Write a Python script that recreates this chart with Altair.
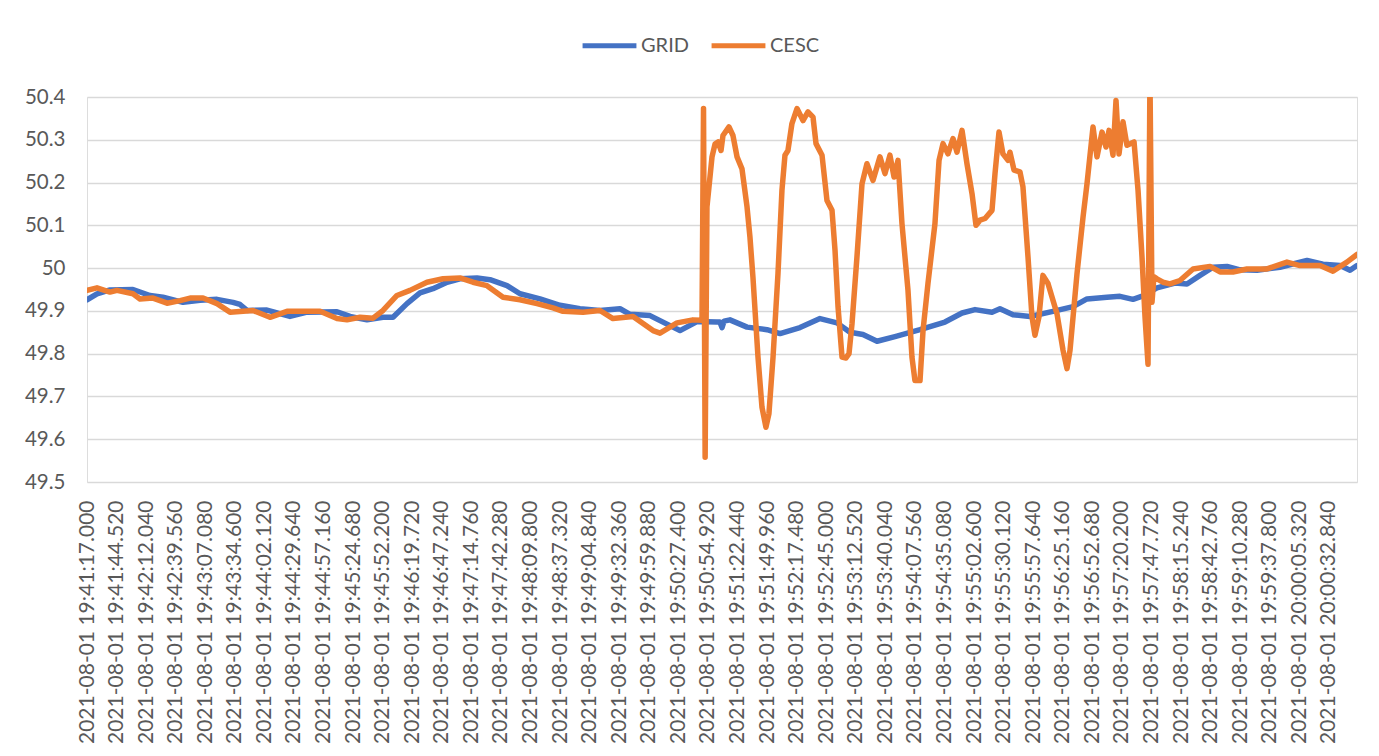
import json
import altair as alt
import pandas as pd

# ---- data ----
x_labels = [
    "2021-08-01 19:41:17.000", "2021-08-01 19:41:44.520", "2021-08-01 19:42:12.040",
    "2021-08-01 19:42:39.560", "2021-08-01 19:43:07.080", "2021-08-01 19:43:34.600",
    "2021-08-01 19:44:02.120", "2021-08-01 19:44:29.640", "2021-08-01 19:44:57.160",
    "2021-08-01 19:45:24.680", "2021-08-01 19:45:52.200", "2021-08-01 19:46:19.720",
    "2021-08-01 19:46:47.240", "2021-08-01 19:47:14.760", "2021-08-01 19:47:42.280",
    "2021-08-01 19:48:09.800", "2021-08-01 19:48:37.320", "2021-08-01 19:49:04.840",
    "2021-08-01 19:49:32.360", "2021-08-01 19:49:59.880", "2021-08-01 19:50:27.400",
    "2021-08-01 19:50:54.920", "2021-08-01 19:51:22.440", "2021-08-01 19:51:49.960",
    "2021-08-01 19:52:17.480", "2021-08-01 19:52:45.000", "2021-08-01 19:53:12.520",
    "2021-08-01 19:53:40.040", "2021-08-01 19:54:07.560", "2021-08-01 19:54:35.080",
    "2021-08-01 19:55:02.600", "2021-08-01 19:55:30.120", "2021-08-01 19:55:57.640",
    "2021-08-01 19:56:25.160", "2021-08-01 19:56:52.680", "2021-08-01 19:57:20.200",
    "2021-08-01 19:57:47.720", "2021-08-01 19:58:15.240", "2021-08-01 19:58:42.760",
    "2021-08-01 19:59:10.280", "2021-08-01 19:59:37.800", "2021-08-01 20:00:05.320",
    "2021-08-01 20:00:32.840",
]

# seconds after 19:41:17.000
grid_t = [0, 9.3, 21.4, 42.8, 58.6, 70.7, 89.3, 105.2, 121.0, 135.9, 142.4, 148.9,
          167.5, 188.9, 204.8, 232.7, 244.8, 260.6, 275.5, 284.8, 297.8, 309.9, 322.0,
          335.1, 347.1, 363.0, 375.1, 390.9, 403.0, 421.6, 440.2, 458.8, 477.4, 496.1,
          505.4, 524.0, 545.4, 551.9, 567.7, 586.3, 589.1, 591.0, 592.9, 598.4, 614.3,
          632.9, 645.0, 663.6, 682.2, 698.0, 710.1, 722.2, 735.3, 752.0, 775.3, 798.5,
          814.4, 826.5, 842.3, 849.7, 861.8, 877.6, 899.0, 917.7, 930.7, 949.3, 961.4,
          973.5, 982.8, 995.8, 1012.6, 1023.8, 1035.9, 1048.0, 1061.0, 1073.1, 1088.9,
          1110.3, 1135.5, 1150.3, 1166.2, 1175.5, 1182.0]
grid_v = [49.926, 49.940, 49.949, 49.950, 49.936, 49.932, 49.920, 49.925, 49.927, 49.920,
          49.915, 49.901, 49.902, 49.887, 49.897, 49.898, 49.887, 49.879, 49.885, 49.885,
          49.917, 49.942, 49.952, 49.967, 49.975, 49.977, 49.973, 49.959, 49.940, 49.928,
          49.913, 49.905, 49.901, 49.905, 49.892, 49.889, 49.862, 49.854, 49.875, 49.874,
          49.874, 49.861, 49.876, 49.879, 49.862, 49.856, 49.847, 49.861, 49.882, 49.872,
          49.850, 49.845, 49.829, 49.840, 49.856, 49.874, 49.895, 49.903, 49.897, 49.905,
          49.891, 49.887, 49.899, 49.910, 49.928, 49.932, 49.934, 49.927, 49.935, 49.954,
          49.965, 49.963, 49.983, 50.002, 50.004, 49.996, 49.995, 50.002, 50.018, 50.009,
          50.006, 49.995, 50.006]

cesc_t = [0, 9.3, 21.4, 27.9, 42.8, 49.3, 61.4, 74.5, 86.6, 95.9, 108.0, 121.0, 133.1,
          154.5, 170.3, 186.1, 216.9, 232.7, 242.0, 254.1, 266.2, 275.5, 288.5, 300.6,
          316.4, 331.3, 347.1, 359.2, 372.3, 387.2, 403.0, 418.8, 433.7, 443.0, 461.6,
          477.4, 489.5, 508.2, 526.8, 533.3, 549.1, 564.0, 572.4, 573.8, 575.3, 577.0,
          581.7, 584.5, 587.3, 590.1, 591.9, 597.5, 601.2, 605.0, 609.6, 614.3, 617.0,
          619.8, 624.5, 628.2, 631.9, 634.7, 638.5, 643.1, 646.8, 649.6, 652.4, 656.1,
          660.8, 666.4, 671.0, 675.7, 678.5, 684.1, 688.7, 693.4, 696.2, 699.0, 702.7,
          706.4, 709.2, 712.0, 716.6, 721.3, 725.9, 731.5, 738.0, 742.7, 747.3, 751.1,
          754.8, 758.5, 764.1, 767.8, 770.6, 775.3, 778.1, 782.7, 789.2, 793.0, 796.7,
          801.3, 806.0, 809.7, 814.4, 819.0, 823.7, 827.4, 831.1, 835.8, 842.3, 845.1,
          848.8, 852.5, 857.2, 859.0, 862.8, 868.3, 871.1, 875.8, 879.5, 882.3, 886.0,
          889.7, 894.4, 902.8, 908.4, 912.1, 914.9, 921.4, 927.0, 930.7, 936.3, 940.0,
          944.7, 948.4, 951.2, 954.9, 957.7, 960.5, 964.2, 967.9, 974.5, 978.2, 981.9,
          984.7, 987.5, 989.3, 991.2, 993.0, 995.8, 1001.4, 1007.9, 1017.2, 1029.4,
          1045.2, 1054.5, 1066.6, 1079.6, 1098.2, 1116.8, 1128.9, 1147.5, 1159.6,
          1172.6, 1182.0]
cesc_v = [49.948, 49.954, 49.944, 49.948, 49.940, 49.928, 49.930, 49.918, 49.924, 49.930,
          49.930, 49.917, 49.897, 49.901, 49.885, 49.899, 49.899, 49.882, 49.879, 49.885,
          49.883, 49.901, 49.936, 49.948, 49.967, 49.975, 49.977, 49.967, 49.959, 49.932,
          49.926, 49.917, 49.907, 49.899, 49.897, 49.901, 49.882, 49.887, 49.854, 49.848,
          49.872, 49.879, 49.878, 50.373, 49.558, 50.143, 50.260, 50.290, 50.295, 50.275,
          50.310, 50.330, 50.310, 50.260, 50.232, 50.143, 50.073, 49.979, 49.792, 49.675,
          49.628, 49.660, 49.792, 49.987, 50.182, 50.264, 50.275, 50.338, 50.373, 50.345,
          50.365, 50.353, 50.291, 50.264, 50.158, 50.135, 50.041, 49.909, 49.792, 49.790,
          49.800, 49.870, 50.026, 50.197, 50.244, 50.205, 50.260, 50.221, 50.264, 50.213,
          50.252, 50.104, 49.948, 49.792, 49.737, 49.737, 49.854, 49.964, 50.104, 50.252,
          50.291, 50.267, 50.303, 50.271, 50.322, 50.244, 50.174, 50.100, 50.112, 50.116,
          50.135, 50.221, 50.318, 50.267, 50.252, 50.271, 50.229, 50.225, 50.190, 50.026,
          49.886, 49.843, 49.886, 49.983, 49.964, 49.893, 49.808, 49.765, 49.808, 49.987,
          50.119, 50.197, 50.330, 50.260, 50.318, 50.283, 50.322, 50.264, 50.392, 50.267,
          50.342, 50.287, 50.295, 50.182, 50.026, 49.886, 49.775, 50.450, 49.920, 49.980,
          49.975, 49.967, 49.963, 49.971, 49.998, 50.004, 49.991, 49.991, 49.998, 49.998,
          50.014, 50.006, 50.006, 49.993, 50.014, 50.032]

series_names = ["GRID", "CESC"]
series_colors = ["#4472C4", "#ED7D31"]
y_ticks = [49.5, 49.6, 49.7, 49.8, 49.9, 50.0, 50.1, 50.2, 50.3, 50.4]

# ---- build table ----
df = pd.concat([
    pd.DataFrame({"t": grid_t, "v": grid_v, "series": "GRID", "order": range(len(grid_t))}),
    pd.DataFrame({"t": cesc_t, "v": cesc_v, "series": "CESC", "order": range(len(cesc_t))}),
], ignore_index=True)

t0 = pd.Timestamp(x_labels[0])
tick_vals = [(pd.Timestamp(s) - t0).total_seconds() for s in x_labels]
step = tick_vals[1] - tick_vals[0]
label_expr = f"{json.dumps(x_labels)}[round(datum.value / {step})]"

FONT = "Lato"
TXT = "#595959"

x_enc = alt.X("t:Q", scale=alt.Scale(domain=[0, 1182], nice=False, zero=False),
              axis=alt.Axis(values=tick_vals, labelExpr=label_expr, labelAngle=270,
                            labelFontSize=21, labelFont=FONT, labelColor=TXT,
                            labelPadding=18, ticks=False, domain=False, grid=False,
                            title=None, labelOverlap=False, labelBound=False,
                            labelFlush=False, labelLimit=400))
y_enc = alt.Y("v:Q", scale=alt.Scale(domain=[49.5, 50.4], nice=False, zero=False),
              axis=alt.Axis(values=y_ticks, format=".1~f", labelFontSize=20.5,
                            labelFont=FONT, labelColor=TXT, labelPadding=22,
                            ticks=False, domain=False, gridColor="#D9D9D9",
                            gridWidth=1.5, title=None))
color_enc = alt.Color("series:N",
                      scale=alt.Scale(domain=series_names, range=series_colors),
                      legend=alt.Legend(title=None, orient="none", direction="horizontal",
                                        legendX=493, legendY=-81, symbolType="stroke",
                                        symbolSize=2900, symbolStrokeWidth=5,
                                        labelFontSize=20, labelFont=FONT,
                                        labelColor=TXT, labelOffset=2,
                                        columnPadding=12, padding=0))

base = alt.Chart(df).mark_line(strokeWidth=5.5, clip=True, strokeCap="round",
                               strokeJoin="round").encode(
    x=x_enc, y=y_enc, color=color_enc, order="order:Q")

chart = alt.layer(
    base.transform_filter(alt.datum.series == "GRID"),
    base.transform_filter(alt.datum.series == "CESC"),
).properties(
    width=1270, height=385,
    padding={"left": 79, "top": 89, "right": 10, "bottom": 265},
    autosize="none",
).configure_view(stroke=None).configure(background="white")

chart.save("out.html", embed_options={"renderer": "svg", "actions": False})
